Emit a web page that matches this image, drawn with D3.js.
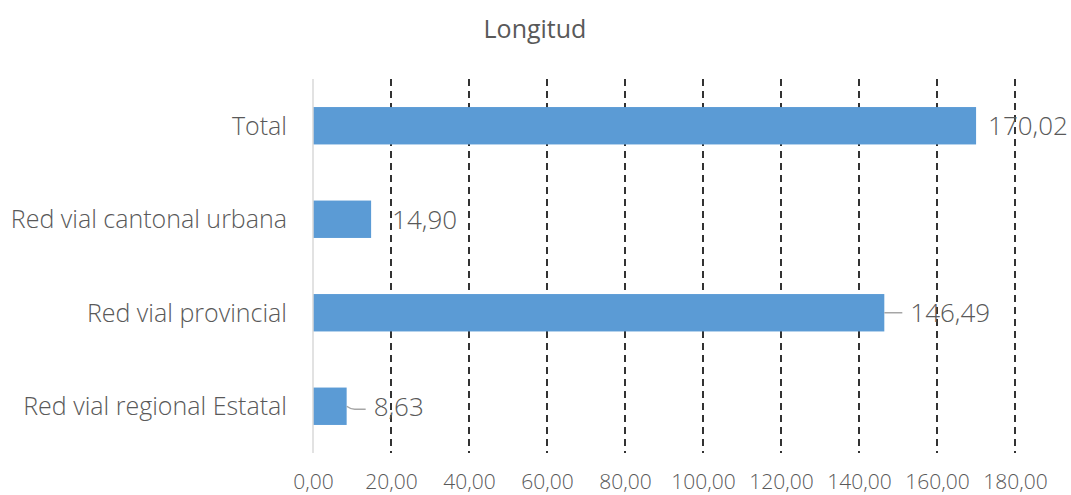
<!DOCTYPE html>
<html>
<head>
<meta charset="utf-8">
<script src="https://cdn.jsdelivr.net/npm/d3@7"></script>
<style>
  body { margin: 0; background: #fff; }
  text { font-family: "Open Sans", sans-serif; fill: #595959; }
</style>
</head>
<body>
<div id="chart"></div>
<script>
// datos del gráfico
var categorias = ["Total", "Red vial cantonal urbana", "Red vial provincial", "Red vial regional Estatal"];
var longitudes = [170.02, 14.90, 146.49, 8.63];
var ticks = [0, 20, 40, 60, 80, 100, 120, 140, 160, 180];

var width = 1071, height = 495;
var margin = { top: 79, right: 56, bottom: 42, left: 313 };

var svg = d3.select("#chart").append("svg")
    .attr("width", width)
    .attr("height", height);

var x = d3.scaleLinear().domain([0, 180]).range([margin.left, width - margin.right]);
var y = d3.scaleBand().domain(categorias)
    .range([margin.top, height - margin.bottom])
    .paddingInner(0.6).paddingOuter(0.3);

var fmt = function (v) { return d3.format(".2f")(v).replace(".", ","); };

// titulo
svg.append("text")
    .attr("x", 535).attr("y", 38)
    .attr("text-anchor", "middle")
    .style("font-size", "25px")
    .text("Longitud");

// lineas de cuadricula
svg.append("g").selectAll("line")
    .data(ticks.filter(function (d) { return d > 0; }))
    .enter().append("line")
    .attr("x1", function (d) { return x(d); })
    .attr("x2", function (d) { return x(d); })
    .attr("y1", margin.top).attr("y2", height - margin.bottom)
    .attr("stroke", "#000").attr("stroke-width", 1.6)
    .attr("stroke-dasharray", "7,5");

// barras
svg.append("g").selectAll("rect")
    .data(longitudes)
    .enter().append("rect")
    .attr("x", x(0))
    .attr("y", function (d, i) { return y(categorias[i]); })
    .attr("width", function (d) { return x(d) - x(0); })
    .attr("height", y.bandwidth())
    .attr("fill", "#5b9bd5");

// eje vertical
svg.append("line")
    .attr("x1", x(0)).attr("x2", x(0))
    .attr("y1", margin.top).attr("y2", height - margin.bottom)
    .attr("stroke", "#d9d9d9").attr("stroke-width", 1.5);

// etiquetas de categoria
svg.append("g").selectAll("text")
    .data(categorias)
    .enter().append("text")
    .attr("x", 287)
    .attr("y", function (d) { return y(d) + y.bandwidth() / 2; })
    .attr("dy", "0.35em")
    .attr("text-anchor", "end")
    .style("font-size", "25px")
    .style("font-weight", 300)
    .text(function (d) { return d; });

// eje x
var xAxis = d3.axisBottom(x).tickValues(ticks).tickSize(0).tickFormat(fmt);
var gx = svg.append("g")
    .attr("transform", "translate(0," + (height - margin.bottom) + ")")
    .call(xAxis);
gx.select(".domain").remove();
gx.selectAll("text")
    .attr("dy", 0).attr("y", 36)
    .style("font-size", "21px")
    .style("font-weight", 300)
    .style("fill", "#595959");

// etiquetas de datos (desplazamiento y lineas guia como en el original)
var desplaz = { "Total": 12, "Red vial cantonal urbana": 21, "Red vial provincial": 26, "Red vial regional Estatal": 27 };
var guias = { "Red vial provincial": true, "Red vial regional Estatal": true };

svg.append("g").selectAll("path")
    .data(longitudes.map(function (d, i) { return { v: d, c: categorias[i] }; })
        .filter(function (d) { return guias[d.c]; }))
    .enter().append("path")
    .attr("d", function (d) {
        var x0 = x(d.v), yc = y(d.c) + y.bandwidth() / 2;
        var x1 = x0 + desplaz[d.c] - 8;
        if (d.c === "Red vial regional Estatal") {
            return "M" + x0 + "," + (yc) + " Q" + (x0 + 4) + "," + (yc + 3) + " " + (x0 + 8) + "," + (yc + 3) + " L" + x1 + "," + (yc + 3);
        }
        return "M" + x0 + "," + yc + " L" + x1 + "," + yc;
    })
    .attr("fill", "none")
    .attr("stroke", "#a6a6a6").attr("stroke-width", 1.5);

svg.append("g").selectAll("text")
    .data(longitudes)
    .enter().append("text")
    .attr("x", function (d, i) { return x(d) + desplaz[categorias[i]]; })
    .attr("y", function (d, i) { return y(categorias[i]) + y.bandwidth() / 2; })
    .attr("dy", "0.36em")
    .style("font-size", "26px")
    .style("font-weight", 300)
    .text(fmt);
</script>
</body>
</html>
